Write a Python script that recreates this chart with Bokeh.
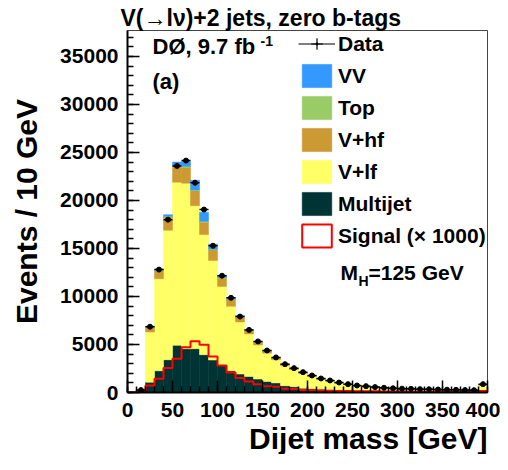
import math
from bokeh.plotting import figure
from bokeh.models import (ColumnDataSource, Label, Legend, LegendItem,
                          FixedTicker, Range1d, Title)
from bokeh.embed import file_html
from bokeh.resources import INLINE

# ---------------- data (10 GeV bins from 0 to 400 GeV) ----------------
bin_edges = list(range(0, 410, 10))

multijet = [0, 40, 1080, 2260, 3410, 4910, 4560, 4560, 3940, 3380,
            2820, 2260, 1920, 1670, 1400, 1150, 1000, 700, 600, 450,
            400, 350, 290, 240, 200, 180, 160, 140, 120, 110,
            100, 90, 80, 75, 70, 65, 60, 55, 50, 120]
v_lf = [0, 140, 5220, 9590, 13490, 16990, 17240, 14890, 12510, 10370,
        8230, 6720, 5430, 4430, 3550, 2950, 2400, 2080, 1780, 1530,
        1250, 1010, 880, 720, 610, 500, 450, 380, 330, 280,
        270, 260, 245, 235, 215, 200, 195, 175, 170, 610]
v_hf = [0, 20, 550, 850, 1390, 1670, 1670, 1560, 1290, 1100,
        850, 670, 500, 370, 280, 220, 190, 150, 120, 100,
        90, 70, 60, 50, 40, 30, 30, 25, 20, 20,
        18, 16, 15, 14, 13, 12, 11, 10, 10, 100]
top = [0, 0, 20, 40, 60, 80, 90, 90, 90, 80,
       70, 60, 50, 40, 35, 30, 25, 20, 18, 15,
       12, 10, 9, 8, 7, 6, 5, 5, 4, 4,
       3, 3, 3, 2, 2, 2, 2, 2, 2, 10]
vv = [0, 0, 60, 110, 170, 350, 490, 1000, 950, 520,
      250, 170, 90, 60, 45, 35, 28, 22, 18, 15,
      12, 10, 8, 7, 6, 5, 5, 4, 4, 3,
      3, 3, 2, 2, 2, 2, 2, 2, 2, 10]
data = [0, 250, 6850, 12800, 18000, 23600, 24150, 21850, 19050, 15280,
        12160, 9860, 7910, 6520, 5320, 4375, 3650, 2950, 2535, 2120,
        1770, 1460, 1250, 1040, 870, 730, 660, 560, 490, 440,
        400, 380, 350, 340, 310, 290, 280, 250, 240, 870]
signal_x1000 = [20, 150, 730, 1430, 2540, 3520, 4700, 5330, 4980, 3760,
                2820, 2090, 1500, 1150, 870, 650, 600, 400, 360, 250,
                230, 200, 180, 160, 150, 140, 130, 120, 110, 100,
                100, 90, 90, 80, 80, 70, 70, 60, 60, 150]

x_ticks = [0, 50, 100, 150, 200, 250, 300, 350, 400]
y_ticks = [0, 5000, 10000, 15000, 20000, 25000, 30000, 35000]

colors = {"multijet": "#003333", "v_lf": "#ffff66", "v_hf": "#cc9933",
          "top": "#99cc66", "vv": "#3399ff"}

# ---------------- figure ----------------
FONT = "Liberation Sans"
NAN = float("nan")
p = figure(width=500, height=454, x_range=Range1d(0, 400), y_range=Range1d(0, 37700),
           output_backend="svg", toolbar_location=None,
           min_border_left=127, min_border_right=13, min_border_top=30, min_border_bottom=62)
p.xgrid.visible = False
p.ygrid.visible = False
p.outline_line_color = "#444444"
p.outline_line_width = 1
p.background_fill_color = "white"

p.title.text = "V(\u2192l\u03bd)+2 jets, zero b-tags"
p.title.text_font = FONT
p.title.text_font_size = "23px"
p.title.text_font_style = "bold"
p.title.text_color = "black"
p.title.align = "left"
p.title.offset = -7
p.title.standoff = 0

lo = bin_edges[:-1]
hi = bin_edges[1:]
centers = [(a + b) / 2 for a, b in zip(lo, hi)]

src = ColumnDataSource(dict(x=centers, multijet=multijet, v_lf=v_lf, v_hf=v_hf, top=top, vv=vv))
stackers = ["multijet", "v_lf", "v_hf", "top", "vv"]
stack_r = p.vbar_stack(stackers, x="x", width=10, source=src,
                       color=[colors[s] for s in stackers], line_width=0.5)
rmap = dict(zip(stackers, stack_r))

# signal step histogram
sig_y = signal_x1000 + [signal_x1000[-1]]
p.step(x=bin_edges, y=sig_y, mode="after", line_color="#ff0000", line_width=2)

# data points
dsel = [i for i, d in enumerate(data) if d > 0]
dsrc = ColumnDataSource(dict(
    x=[centers[i] for i in dsel], lo=[lo[i] for i in dsel], hi=[hi[i] for i in dsel],
    y=[data[i] for i in dsel],
    ylo=[data[i] - math.sqrt(data[i]) for i in dsel],
    yhi=[data[i] + math.sqrt(data[i]) for i in dsel]))
p.segment(x0="lo", x1="hi", y0="y", y1="y", source=dsrc, line_color="black", line_width=1.5)
p.segment(x0="x", x1="x", y0="ylo", y1="yhi", source=dsrc, line_color="black", line_width=1.5)
p.scatter(x="x", y="y", source=dsrc, size=5, color="black")

# legend-only renderers (one invisible NaN point each)
leg_line = p.line(x=[NAN, NAN], y=[NAN, NAN], line_color="black", line_width=1.2)
leg_cross = p.scatter(x=[NAN], y=[NAN], marker="cross", size=14, line_color="black", line_width=1.2)
leg_dot = p.scatter(x=[NAN], y=[NAN], marker="dot", size=14, line_color="black", fill_color="black")
leg_sig = p.quad(left=[NAN], right=[NAN], top=[NAN], bottom=[NAN], fill_color="white",
                 line_color="#ff0000", line_width=2)

legend = Legend(items=[
    LegendItem(label="Data", renderers=[leg_line, leg_cross, leg_dot]),
    LegendItem(label="VV", renderers=[rmap["vv"]]),
    LegendItem(label="Top", renderers=[rmap["top"]]),
    LegendItem(label="V+hf", renderers=[rmap["v_hf"]]),
    LegendItem(label="V+lf", renderers=[rmap["v_lf"]]),
    LegendItem(label="Multijet", renderers=[rmap["multijet"]]),
    LegendItem(label="Signal (\u00d7 1000)", renderers=[leg_sig]),
], location=(171, 142), glyph_width=37, glyph_height=29, label_height=29,
    label_standoff=3, spacing=3, padding=0, margin=0,
    border_line_alpha=0, background_fill_alpha=0,
    label_text_font=FONT, label_text_font_size="21px", label_text_font_style="bold",
    label_text_color="black", label_text_baseline="middle")
p.add_layout(legend)

# axes
p.xaxis.ticker = FixedTicker(ticks=x_ticks, minor_ticks=list(range(0, 401, 10)))
p.yaxis.ticker = FixedTicker(ticks=y_ticks, minor_ticks=list(range(0, 37001, 1000)))
for ax in (p.xaxis[0], p.yaxis[0]):
    ax.major_tick_in = 12
    ax.major_tick_out = 0
    ax.minor_tick_in = 6
    ax.minor_tick_out = 0
    ax.axis_line_width = 2
    ax.axis_line_color = "black"
    ax.major_tick_line_width = 1.5
    ax.minor_tick_line_width = 1.5
    ax.major_tick_line_color = "black"
    ax.minor_tick_line_color = "black"
    ax.major_label_text_font = FONT
    ax.major_label_text_font_size = "21px"
    ax.major_label_text_font_style = "bold"
    ax.major_label_text_color = "black"
p.yaxis[0].major_label_standoff = 9
p.xaxis[0].major_label_standoff = 10

p.yaxis[0].axis_label = "Events / 10 GeV"
p.yaxis[0].axis_label_text_font = FONT
p.yaxis[0].axis_label_text_font_size = "30px"
p.yaxis[0].axis_label_text_font_style = "bold"
p.yaxis[0].axis_label_text_color = "black"
p.yaxis[0].axis_label_standoff = 14

xlabel = Title(text="Dijet mass [GeV]", align="right", standoff=0, offset=0,
               text_font=FONT, text_font_size="30px", text_font_style="bold",
               text_color="black")
p.add_layout(xlabel, "below")


def px_to_x(px):
    return (px - 127) / 0.9


def py_to_y(py):
    return (391 - py) * 37700 / 362


def add_text(text, px, py, size, align="left"):
    p.add_layout(Label(x=px_to_x(px), y=py_to_y(py), text=text, text_font=FONT,
                       text_font_size=size, text_font_style="bold", text_color="black",
                       text_align=align, text_baseline="middle"))


add_text("D\u00d8, 9.7 fb", 152, 45, "22px")
add_text("-1", 260, 39, "14px")
add_text("(a)", 152, 80, "22px")
add_text("M", 340, 271, "21px")
add_text("H", 358, 279, "14px")
add_text("=125 GeV", 368, 271, "21px")

open("out.html", "w").write(file_html(p, INLINE))
